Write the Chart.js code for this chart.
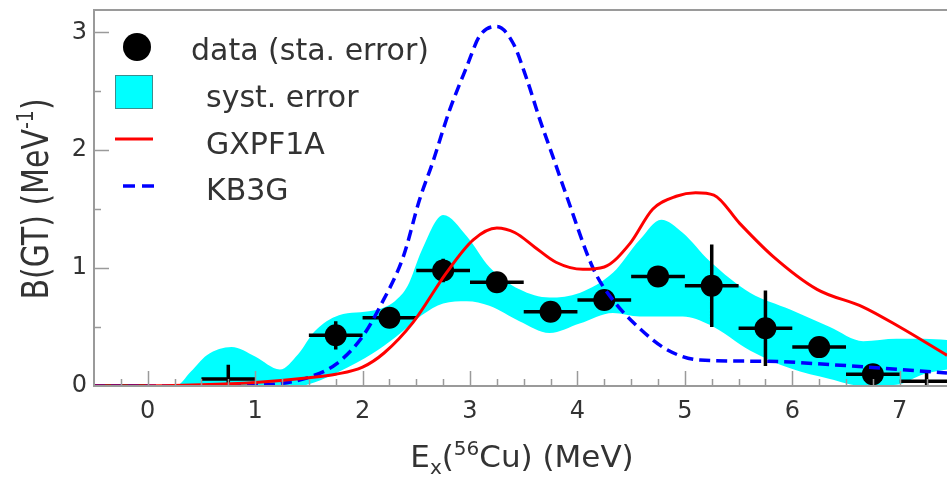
<!DOCTYPE html>
<html>
<head>
<meta charset="utf-8">
<script src="https://cdn.jsdelivr.net/npm/chart.js@4.4.1/dist/chart.umd.min.js"></script>
<style>
  html, body { margin: 0; padding: 0; background: #fff; }
</style>
</head>
<body>
<canvas id="bgt-graph" width="947" height="478"></canvas>
<script>
// tick labels
const xTicks = [0, 1, 2, 3, 4, 5, 6, 7]
const yTicks = [0, 1, 2, 3]

// measured B(GT) per 0.5 MeV bin (statistical error)
const dataX = [-0.25, 0.75, 1.75, 2.25, 2.75, 3.25, 3.75, 4.25, 4.75, 5.25, 5.75, 6.25, 6.75, 7.25]
const dataY = [0, 0.06, 0.43, 0.58, 0.98, 0.88, 0.63, 0.73, 0.93, 0.85, 0.49, 0.33, 0.10, 0.04]
const dataErr = [0, 0.12, 0.12, 0.06, 0.10, 0.04, 0.04, 0.08, 0.04, 0.35, 0.32, 0.05, 0.05, 0.08]
const dataMarker = [false, false, true, true, true, true, true, true, true, true, true, true, true, false]
const binHalfWidth = 0.25

// systematic error band
const bandX = [-0.5, 0.26, 0.4, 0.55, 0.78, 1.0, 1.23, 1.4, 1.55, 1.78, 2.1, 2.3, 2.42, 2.55, 2.75, 2.97, 3.18, 3.46, 3.74, 4.02, 4.33, 4.58, 4.78, 4.98, 5.23, 5.61, 5.98, 6.35, 6.66, 6.97, 7.22, 7.44]
const bandUpper = [0, 0, 0.12, 0.26, 0.33, 0.25, 0.14, 0.27, 0.46, 0.60, 0.64, 0.72, 0.85, 1.15, 1.45, 1.27, 1.01, 0.82, 0.75, 0.79, 0.96, 1.24, 1.41, 1.30, 1.06, 0.79, 0.65, 0.50, 0.38, 0.40, 0.40, 0.39]
const bandLower = [0, 0, 0, 0, 0, 0, 0, 0, 0.03, 0.12, 0.28, 0.41, 0.50, 0.60, 0.70, 0.72, 0.68, 0.55, 0.45, 0.53, 0.62, 0.59, 0.59, 0.59, 0.52, 0.30, 0.15, 0.06, 0.0, 0.01, 0.10, 0.14]

// shell model GXPF1A
const gxpfX = [-0.5, -0.15, 0.5, 1.0, 1.5, 1.75, 2.0, 2.2, 2.47, 2.78, 3.03, 3.25, 3.42, 3.6, 3.8, 4.05, 4.25, 4.49, 4.70, 4.92, 5.1, 5.27, 5.51, 5.82, 6.23, 6.66, 7.0, 7.44]
const gxpfY = [0, 0, 0.01, 0.03, 0.07, 0.10, 0.16, 0.28, 0.54, 0.96, 1.24, 1.34, 1.30, 1.18, 1.05, 0.99, 1.01, 1.21, 1.50, 1.61, 1.64, 1.62, 1.38, 1.10, 0.82, 0.67, 0.50, 0.26]

// shell model KB3G
const kb3gX = [-0.5, 0.5, 1.0, 1.23, 1.52, 1.76, 2.0, 2.16, 2.38, 2.53, 2.65, 2.81, 2.97, 3.09, 3.25, 3.40, 3.53, 3.65, 3.77, 3.90, 4.15, 4.33, 4.59, 4.83, 5.14, 5.76, 6.38, 7.0, 7.44]
const kb3gY = [0, 0, 0.01, 0.02, 0.08, 0.19, 0.42, 0.67, 1.10, 1.58, 1.89, 2.34, 2.71, 2.97, 3.05, 2.91, 2.60, 2.26, 1.95, 1.61, 0.99, 0.73, 0.48, 0.31, 0.22, 0.21, 0.18, 0.14, 0.11]

const legendLabels = ['data (sta. error)', 'syst. error', 'GXPF1A', 'KB3G']

const fontFamily = '"DejaVu Sans", sans-serif'
const textColor = '#333333'
const axisColor = '#9a9a9a'
const cyan = '#00ffff'
const red = '#ff0000'
const blue = '#0000ff'

const toPoints = (xs, ys) => xs.map((x, i) => ({ x, y: ys[i] }))

// error bars as broken line segments
const errorSegments = []
dataX.forEach((x, i) => {
  const y = dataY[i], e = dataErr[i]
  errorSegments.push({ x: x - binHalfWidth, y }, { x: x + binHalfWidth, y }, { x, y: null })
  if (e > 0) errorSegments.push({ x, y: y - e }, { x, y: y + e }, { x, y: null })
})

function drawRich (ctx, parts, x, y) {
  let total = 0
  parts.forEach(p => {
    ctx.font = `${p.size}px ${fontFamily}`
    p.w = ctx.measureText(p.t).width
    total += p.w
  })
  let cx = x - total / 2
  parts.forEach(p => {
    ctx.font = `${p.size}px ${fontFamily}`
    ctx.fillText(p.t, cx, y + (p.dy || 0))
    cx += p.w
  })
}

const framePlugin = {
  id: 'frame',
  afterDatasetsDraw (chart) {
    const { ctx, chartArea: a, scales: { x, y } } = chart
    ctx.save()
    ctx.strokeStyle = axisColor
    ctx.lineWidth = 2
    ctx.beginPath()
    ctx.moveTo(a.right, a.top)
    ctx.lineTo(a.left, a.top)
    ctx.lineTo(a.left, a.bottom)
    ctx.lineTo(a.right, a.bottom)
    ctx.stroke()
    ctx.lineWidth = 1.5
    ctx.beginPath()
    for (let v = Math.ceil(x.min * 4) / 4; v <= x.max; v += 0.25) {
      const px = Math.round(x.getPixelForValue(v)) + 0.5
      if (px <= a.left + 2) continue
      const len = Number.isInteger(v) ? 15 : 7
      ctx.moveTo(px, a.bottom)
      ctx.lineTo(px, a.bottom - len)
    }
    for (let v = 0.5; v <= y.max; v += 0.5) {
      const py = Math.round(y.getPixelForValue(v)) + 0.5
      const len = Number.isInteger(v) ? 15 : 7
      ctx.moveTo(a.left, py)
      ctx.lineTo(a.left + len, py)
    }
    ctx.stroke()
    ctx.restore()
  }
}

const textPlugin = {
  id: 'texts',
  afterDraw (chart) {
    const { ctx } = chart
    const ds = chart.data.datasets
    ctx.save()
    ctx.fillStyle = textColor
    ctx.textBaseline = 'alphabetic'
    ctx.textAlign = 'left'

    // legend
    ctx.font = `30px ${fontFamily}`
    ctx.fillText(ds[0].label, 191, 60)
    ctx.fillText(ds[4].label, 206, 107)
    ctx.fillText(ds[2].label, 206, 154)
    ctx.fillText(ds[3].label, 206, 200)

    ctx.fillStyle = '#000'
    ctx.beginPath()
    ctx.arc(137, 47, 14, 0, Math.PI * 2)
    ctx.fill()

    ctx.fillStyle = cyan
    ctx.fillRect(115, 75, 38, 34)
    ctx.strokeStyle = '#3a8f8f'
    ctx.lineWidth = 1
    ctx.strokeRect(115.5, 75.5, 37, 33)

    ctx.strokeStyle = red
    ctx.lineWidth = 3
    ctx.beginPath()
    ctx.moveTo(115, 139)
    ctx.lineTo(153, 139)
    ctx.stroke()

    ctx.strokeStyle = blue
    ctx.lineWidth = 3.5
    ctx.setLineDash([12, 7])
    ctx.beginPath()
    ctx.moveTo(123, 186)
    ctx.lineTo(154, 186)
    ctx.stroke()
    ctx.setLineDash([])

    // axis titles
    ctx.fillStyle = textColor
    drawRich(ctx, [
      { t: 'E', size: 31 },
      { t: 'x', size: 20, dy: 7 },
      { t: '(', size: 31 },
      { t: '56', size: 20, dy: -12 },
      { t: 'Cu) (MeV)', size: 31 }
    ], 522, 467)

    ctx.translate(48, 199)
    ctx.rotate(-Math.PI / 2)
    ctx.scale(1, 1.25)
    drawRich(ctx, [
      { t: 'B(GT) (MeV', size: 30 },
      { t: '-1', size: 19, dy: -12 },
      { t: ')', size: 30 }
    ], 0, 0)
    ctx.restore()
  }
}

const ctx = document.getElementById('bgt-graph').getContext('2d')
new Chart(ctx, {
  type: 'line',
  data: {
    datasets: [
      {
        label: legendLabels[0],
        data: toPoints(dataX, dataY),
        showLine: false,
        pointRadius: c => dataMarker[c.dataIndex] ? 11 : 0,
        pointBackgroundColor: '#000',
        pointBorderWidth: 0,
        order: 1
      },
      {
        label: 'stat',
        data: errorSegments,
        borderColor: '#000',
        borderWidth: 3.5,
        pointRadius: 0,
        spanGaps: false,
        tension: 0,
        order: 2
      },
      {
        label: legendLabels[2],
        data: toPoints(gxpfX, gxpfY),
        borderColor: red,
        borderWidth: 3,
        pointRadius: 0,
        cubicInterpolationMode: 'monotone',
        order: 0
      },
      {
        label: legendLabels[3],
        data: toPoints(kb3gX, kb3gY),
        borderColor: blue,
        borderWidth: 3.5,
        borderDash: [11, 6],
        pointRadius: 0,
        cubicInterpolationMode: 'monotone',
        order: 0
      },
      {
        label: legendLabels[1],
        data: toPoints(bandX, bandUpper),
        borderWidth: 0,
        borderColor: cyan,
        backgroundColor: cyan,
        fill: '+1',
        pointRadius: 0,
        cubicInterpolationMode: 'monotone',
        order: 3
      },
      {
        label: 'band low',
        data: toPoints(bandX, bandLower),
        borderWidth: 0,
        borderColor: cyan,
        pointRadius: 0,
        fill: false,
        cubicInterpolationMode: 'monotone',
        order: 4
      }
    ]
  },
  options: {
    responsive: false,
    animation: false,
    layout: { padding: { top: 10, right: 0, left: 0, bottom: 0 } },
    plugins: {
      legend: { display: false },
      tooltip: { enabled: false }
    },
    scales: {
      x: {
        type: 'linear',
        min: -0.5,
        max: 7.44,
        afterFit: s => { s.height = 92; s.paddingLeft = 0; s.paddingRight = 0 },
        afterBuildTicks: s => { s.ticks = xTicks.map(v => ({ value: v })) },
        grid: { display: false, drawTicks: false },
        border: { display: false },
        ticks: {
          font: { family: fontFamily, size: 24 },
          color: textColor,
          padding: 11,
          maxRotation: 0,
          autoSkip: false
        }
      },
      y: {
        type: 'linear',
        min: 0,
        max: 3.19,
        afterFit: s => { s.width = 94; s.paddingTop = 0; s.paddingBottom = 0 },
        afterBuildTicks: s => { s.ticks = yTicks.map(v => ({ value: v })) },
        grid: { display: false, drawTicks: false },
        border: { display: false },
        ticks: {
          font: { family: fontFamily, size: 24 },
          color: textColor,
          padding: 7,
          autoSkip: false
        }
      }
    }
  },
  plugins: [framePlugin, textPlugin]
})
</script>
</body>
</html>
